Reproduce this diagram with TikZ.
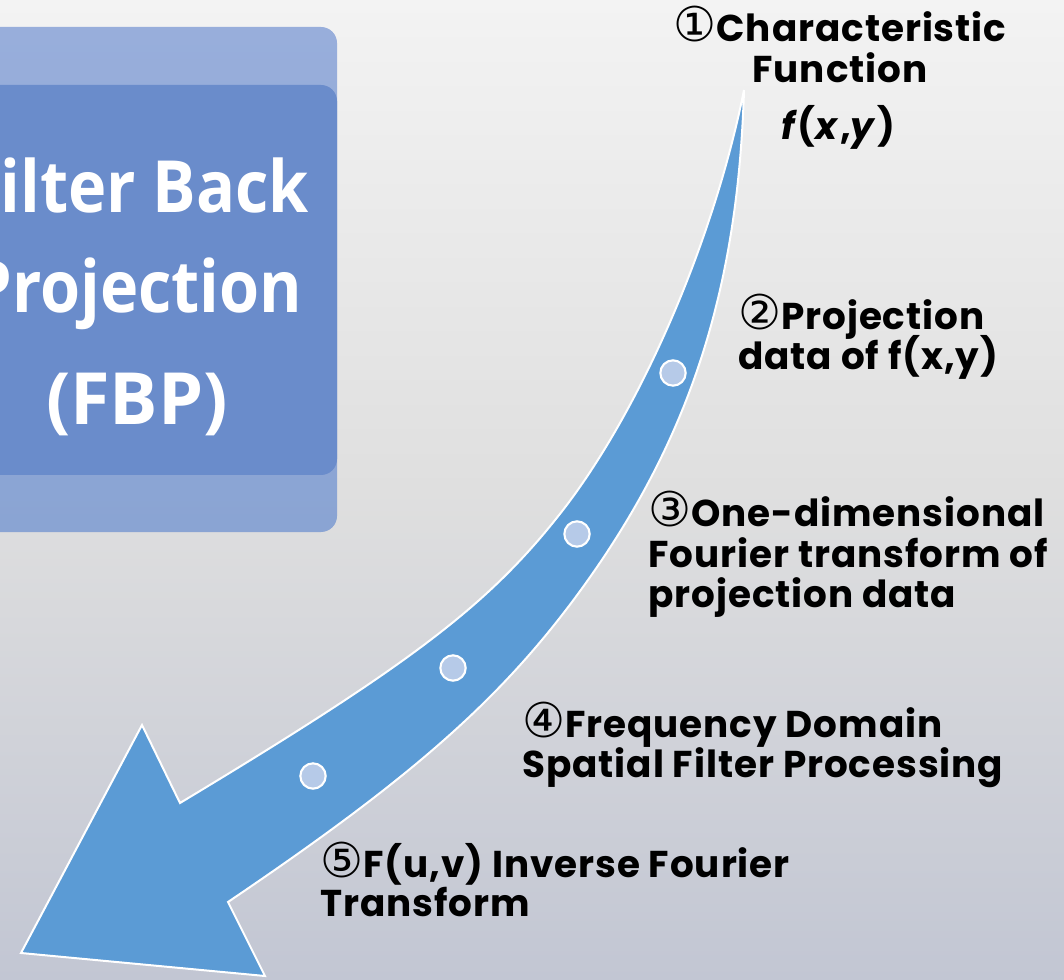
\documentclass[tikz,border=0pt]{standalone}
\usepackage{fontspec}
\newfontfamily\labelfont{Poppins}[LetterSpace=2.5]
\newfontfamily\titlefont{Open Sans}[FakeStretch=0.9]
\newfontfamily\titlefontwide{Open Sans}
\newfontfamily\circfont{DejaVu Sans}
\newcommand{\circnum}[1]{{\circfont\mdseries\fontsize{36}{36}\selectfont #1}}

\definecolor{bgtop}{HTML}{F3F3F3}
\definecolor{bgmid}{HTML}{DFDFDF}
\definecolor{bgbot}{HTML}{C2C6D3}
\definecolor{arrowblue}{HTML}{5B9BD5}
\definecolor{dotfill}{HTML}{B6CAE8}
\definecolor{boxlighttop}{HTML}{98AEDB}
\definecolor{boxlightbot}{HTML}{8AA4D3}
\definecolor{boxdark}{HTML}{6A8CCB}

\tikzset{
  steplabel/.style={font=\labelfont\bfseries\fontsize{28}{30}\selectfont,
    inner sep=0pt, anchor=base west, text=black},
  titleline/.style={font=\titlefont\bfseries\fontsize{54}{60}\selectfont,
    inner sep=0pt, anchor=base, text=white},
  stepdot/.style={circle, fill=dotfill, draw=white, line width=1.6pt,
    minimum size=19pt, inner sep=0pt},
}

\begin{document}
\begin{tikzpicture}[x=0.75pt, y=-0.75pt]
\useasboundingbox (0,0) rectangle (1064,980);
\clip (0,0) rectangle (1064,980);

% background
\shade[top color=bgtop, bottom color=bgbot, middle color=bgmid]
  (0,0) rectangle (1064,980);

% title panel
\shade[top color=boxlighttop, bottom color=boxlightbot, rounded corners=12pt]
  (-60,27) rectangle (337,532);
\fill[boxdark, rounded corners=12pt] (-60,85) rectangle (337,475);
\node[titleline] (t1) at (137,213) {Filter Back};
\node[titleline] (t2) at (137,313) {Projection};
\node[titleline, font=\titlefontwide\bfseries\fontsize{54}{60}\selectfont]
  (t3) at (137,425) {(FBP)};

% curved arrow
\filldraw[fill=arrowblue, draw=white, line width=1.5pt, line join=miter]
  (744,90) .. controls (713.8,241) and (641,409) .. (563,510)
           .. controls (490,604) and (413.6,662.4) .. (180,803)
  -- (142,725) -- (21,953) -- (265,976) -- (228,902)
           .. controls (414,776.4) and (503,697.7) .. (583,587)
           .. controls (689.7,439) and (738,290) .. (744,90)
  -- cycle;

% step markers
\node[stepdot] (d2) at (673,373) {};
\node[stepdot] (d3) at (577,534) {};
\node[stepdot] (d4) at (453,668) {};
\node[stepdot] (d5) at (313,776) {};

% step labels
\node[steplabel, anchor=base] (s1a) at (840,42) {\circnum{①}Characteristic};
\node[steplabel, anchor=base] (s1b) at (840,83) {Function};
\node[steplabel, anchor=base] (s1c) at (838,140) {\itshape f\/\upshape(\itshape x\/\upshape,\itshape y\/\upshape)};

\node[steplabel] (s2a) at (738,330) {\circnum{②}Projection};
\node[steplabel] (s2b) at (738,370) {data of f(x,y)};

\node[steplabel] (s3a) at (648,527) {\circnum{③}One-dimensional};
\node[steplabel] (s3b) at (648,567) {Fourier transform of};
\node[steplabel] (s3c) at (648,607) {projection data};

\node[steplabel] (s4a) at (522,737) {\circnum{④}Frequency Domain};
\node[steplabel] (s4b) at (522,777) {Spatial Filter Processing};

\node[steplabel] (s5a) at (320,877) {\circnum{⑤}F(u,v) Inverse Fourier};
\node[steplabel] (s5b) at (320,916) {Transform};
\end{tikzpicture}
\end{document}
